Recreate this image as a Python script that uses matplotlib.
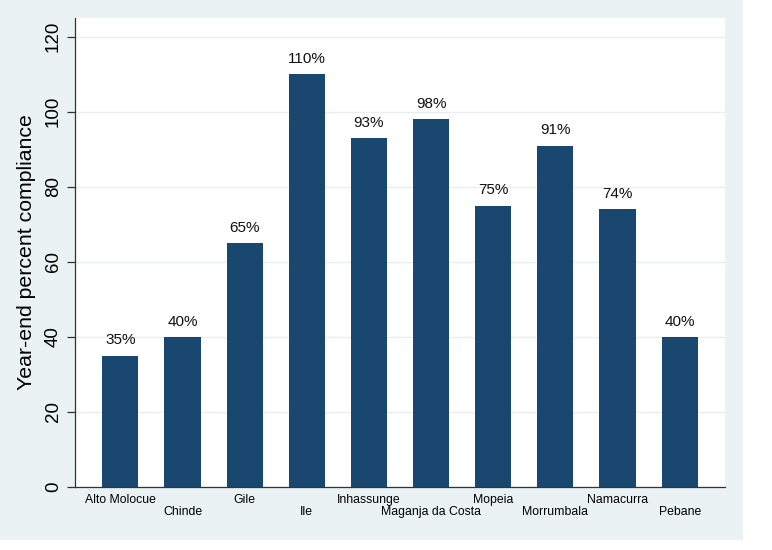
import matplotlib
matplotlib.use("Agg")
import matplotlib.pyplot as plt
from matplotlib.patches import Rectangle

plt.rcParams["font.family"] = ["Liberation Sans", "DejaVu Sans"]

districts = ["Alto Molocue", "Chinde", "Gile", "Ile", "Inhassunge",
             "Maganja da Costa", "Mopeia", "Morrumbala", "Namacurra", "Pebane"]
compliance = [35, 40, 65, 110, 93, 98, 75, 91, 74, 40]
yticks = [0, 20, 40, 60, 80, 100, 120]

bar_color = "#1a476f"
bg_color = "#eaf2f3"

fig = plt.figure(figsize=(7.72, 5.5), dpi=100)
fig.patch.set_facecolor("white")
fig.patches.append(Rectangle((0, 10 / 550), 743 / 772, 540 / 550,
                             transform=fig.transFigure, facecolor=bg_color,
                             edgecolor="none", zorder=-10))

ax = fig.add_axes([75 / 772, 63 / 550, 650 / 772, 469 / 550])
ax.set_facecolor("white")

x = list(range(len(districts)))
ax.bar(x, compliance, width=0.58, color=bar_color, zorder=3)
for xi, v in zip(x, compliance):
    ax.text(xi, v + 2.2, f"{v}%", ha="center", va="bottom", fontsize=11,
            color="#111111", zorder=4)

ax.set_xlim(-0.73, 9.73)
ax.set_ylim(0, 125)
ax.set_yticks(yticks)
ax.set_yticklabels([str(t) for t in yticks], rotation=90, va="center",
                   fontsize=13.5)
ax.yaxis.grid(True, color="#e8eeef", linewidth=1, zorder=0)
ax.set_axisbelow(True)

ax.set_xticks(x)
ax.set_xticklabels(districts, fontsize=8.8)
for i, lab in enumerate(ax.get_xticklabels()):
    if i % 2 == 1:
        lab.set_y(-0.025)
ax.tick_params(axis="x", length=0, pad=5)
ax.tick_params(axis="y", length=5.5, width=0.9, color="#333333", pad=4)

for side in ["top", "right"]:
    ax.spines[side].set_visible(False)
for side in ["left", "bottom"]:
    ax.spines[side].set_color("#333333")
    ax.spines[side].set_linewidth(0.9)

ax.set_ylabel("Year-end percent compliance", fontsize=15.3, labelpad=6)

fig.savefig("out.png", dpi=100)
